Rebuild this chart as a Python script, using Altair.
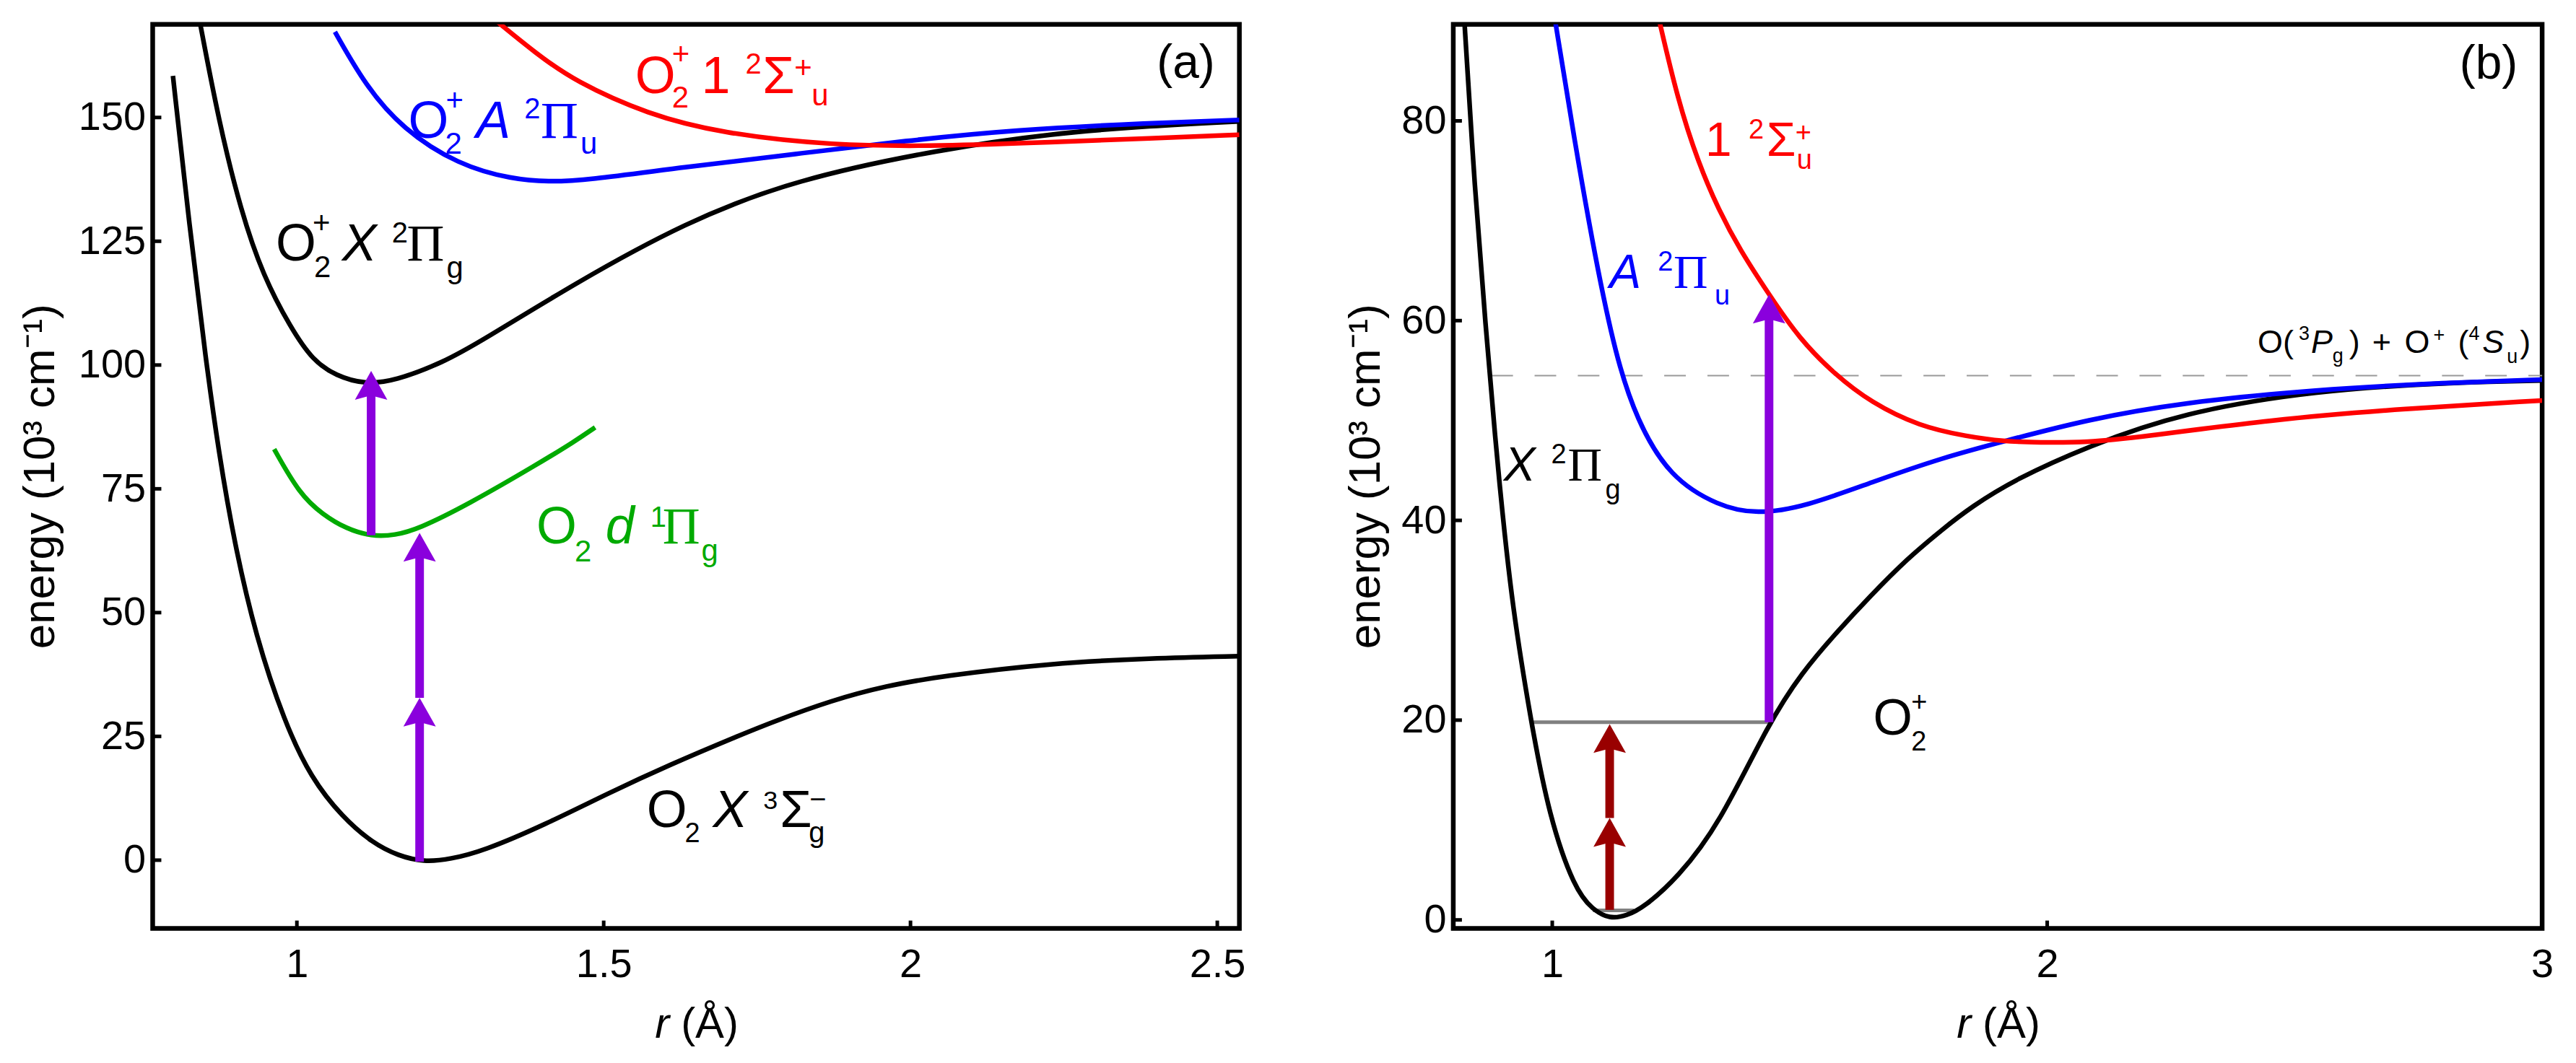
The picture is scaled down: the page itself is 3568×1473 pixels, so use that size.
import altair as alt
import pandas as pd

FONT = "Liberation Sans"
SERIF = "Liberation Serif"

# ---------------- panel (a): O2 / O2+ potential curves ----------------
a_O2X_r = [0.798, 0.825, 0.852, 0.873, 0.898, 0.933, 0.980, 1.023, 1.074, 1.124, 1.165, 1.207,
           1.250, 1.303, 1.405, 1.507, 1.608, 1.723, 1.775, 1.872, 1.960, 2.051, 2.231, 2.392, 2.536]
a_O2X_E = [158.4, 128.0, 100.6, 82.1, 64.1, 45.2, 27.8, 16.6, 8.7, 3.4, 0.9, -0.4,
           0.2, 1.8, 7.2, 13.5, 19.3, 25.3, 27.9, 32.3, 35.2, 37.2, 39.8, 40.8, 41.2]

a_O2d_r = [0.963, 1.004, 1.042, 1.081, 1.121, 1.160, 1.198, 1.277, 1.394, 1.453, 1.486]
a_O2d_E = [83.0, 74.0, 69.8, 66.9, 65.4, 65.6, 66.9, 71.7, 80.1, 84.6, 87.4]

a_O2pX_r = [0.840, 0.873, 0.909, 0.945, 0.990, 1.026, 1.064, 1.110, 1.160, 1.238, 1.300, 1.453,
            1.632, 1.812, 2.051, 2.231, 2.392, 2.536]
a_O2pX_E = [170.5, 149.0, 131.0, 118.0, 107.5, 100.9, 97.8, 96.1, 96.8, 100.5, 104.8, 116.5,
            128.8, 137.5, 143.6, 146.8, 148.3, 149.2]

a_O2pA_r = [1.062, 1.112, 1.172, 1.263, 1.352, 1.410, 1.470, 1.632, 1.812, 1.992, 2.171, 2.392, 2.536]
a_O2pA_E = [167.3, 156.4, 147.7, 140.4, 137.5, 137.0, 137.3, 140.0, 142.6, 145.3, 147.5, 148.9, 149.5]

a_O2pS_r = [1.325, 1.390, 1.453, 1.572, 1.692, 1.872, 2.051, 2.231, 2.392, 2.536]
a_O2pS_E = [169.5, 162.9, 157.3, 150.6, 146.8, 144.3, 144.2, 145.0, 145.8, 146.5]

a_xticks = [1, 1.5, 2, 2.5]
a_yticks = [0, 25, 50, 75, 100, 125, 150]

# arrows (r, from, to)
a_arrow_r = [1.121, 1.200, 1.200]
a_arrow_from = [65.6, -0.3, 32.8]
a_arrow_to = [98.8, 32.8, 66.1]

# ---------------- panel (b): O2+ curves ----------------
b_X_r = [0.820, 0.844, 0.865, 0.886, 0.898, 0.919, 0.957, 0.994, 1.045, 1.082, 1.116, 1.150, 1.186,
         1.253, 1.337, 1.438, 1.505, 1.571, 1.644, 1.716, 1.788, 1.848, 1.935, 2.081, 2.273, 2.542,
         2.812, 3.0]
b_X_E = [92.0, 72.6, 59.7, 47.5, 41.4, 31.5, 19.8, 10.3, 3.1, 1.0, 0.1, 0.4, 1.3,
         4.2, 9.5, 19.8, 24.8, 28.6, 32.5, 36.1, 39.1, 41.4, 44.1, 47.4, 50.8, 53.0,
         53.8, 54.0]

b_A_r = [1.005, 1.045, 1.087, 1.128, 1.170, 1.237, 1.337, 1.412, 1.513, 1.644, 1.790, 1.911,
         2.081, 2.273, 2.542, 2.812, 3.0]
b_A_E = [90.3, 78.0, 66.2, 56.5, 50.1, 44.3, 41.4, 40.6, 41.4, 43.8, 46.3, 47.9,
         50.1, 51.8, 53.1, 53.8, 54.1]

b_S_r = [1.214, 1.253, 1.295, 1.337, 1.379, 1.438, 1.499, 1.571, 1.644, 1.742, 1.838, 1.911,
         1.983, 2.081, 2.183, 2.453, 2.723, 3.0]
b_S_E = [90.5, 82.2, 75.8, 71.0, 67.1, 62.6, 58.2, 54.6, 51.8, 49.4, 48.4, 47.9,
         47.8, 47.8, 48.3, 50.1, 51.2, 52.0]

b_xticks = [1, 2, 3]
b_yticks = [0, 20, 40, 60, 80]

b_arrow_r = [1.438, 1.116, 1.116]
b_arrow_from = [19.8, 1.0, 10.2]
b_arrow_to = [62.6, 10.2, 19.6]
b_arrow_color = ["#8a00dd", "#990000", "#990000"]

b_level_E = [19.8, 0.95]
b_level_r1 = [0.957, 1.082]
b_level_r2 = [1.438, 1.165]

b_limit_E = 54.5
b_limit_r = [0.877, 3.0]

# ---------------- layout ----------------
WA, HA = 1509, 1256
WB, HB = 1512, 1256
XA, YA = [0.765, 2.536], [-13.8, 168.8]
XB, YB = [0.8, 3.0], [-0.86, 89.66]

PURPLE = "#8a00dd"
HEAD = "M0,0L0.5625,1L0,0.85L-0.5625,1Z"

# labels: anchor (r, E), colour, segments (text, dx px, dy px, size, kind)
a_labels = [
    (1.1816, 145.83, "#0000ff", [("O", 0, 0, 72, "s"), ("2", 51, 22, 42, "s"), ("+", 52, -38, 42, "s"),
                                  ("A", 94, 0, 72, "i"), ("2", 161, -27, 40, "s"), ("Π", 184, 0, 72, "r"),
                                  ("u", 239, 22, 42, "s")]),
    (1.5513, 154.99, "#ff0000", [("O", 0, 0, 72, "s"), ("2", 51, 21, 42, "s"), ("+", 51, -40, 42, "s"),
                                  ("1", 92, 0, 72, "s"), ("2", 153, -27, 40, "s"), ("Σ", 177, 0, 72, "s"),
                                  ("+", 221, -21, 42, "s"), ("u", 245, 18, 42, "s")]),
    (0.9657, 121.11, "#000000", [("O", 0, 0, 72, "s"), ("2", 53, 23, 42, "s"), ("+", 51, -38, 42, "s"),
                                  ("X", 92, 0, 72, "i"), ("2", 161, -25, 40, "s"), ("Π", 182, 0, 72, "r"),
                                  ("g", 237, 24, 42, "s")]),
    (1.3905, 63.97, "#00aa00", [("O", 0, 0, 72, "s"), ("2", 53, 25, 42, "s"), ("d", 96, 0, 72, "i"),
                                 ("1", 158, -23, 40, "s"), ("Π", 175, 0, 72, "r"), ("g", 229, 24, 42, "s")]),
    (1.5701, 6.69, "#000000", [("O", 0, 0, 72, "s"), ("2", 53, 21, 38, "s"), ("X", 92, 0, 72, "i"),
                                ("3", 162, -25, 36, "s"), ("Σ", 185, 0, 72, "s"), ("g", 225, 21, 40, "s"),
                                ("−", 226, -25, 40, "s")]),
]
b_labels = [
    (1.3093, 76.47, "#ff0000", [("1", 0, 0, 66, "s"), ("2", 60, -24, 38, "s"), ("Σ", 85, 0, 66, "s"),
                                 ("+", 125, -20, 38, "s"), ("u", 127, 18, 38, "s")]),
    (1.1157, 63.28, "#0000ff", [("A", 0, 0, 66, "i"), ("2", 67, -24, 38, "s"), ("Π", 89, 0, 66, "r"),
                                 ("u", 146, 23, 38, "s")]),
    (0.9019, 43.97, "#000000", [("X", 0, 0, 66, "i"), ("2", 66, -24, 38, "s"), ("Π", 89, 0, 66, "r"),
                                 ("g", 141, 25, 38, "s")]),
    (1.6483, 18.53, "#000000", [("O", 0, 0, 70, "s"), ("+", 53, -33, 38, "s"), ("2", 53, 22, 38, "s")]),
    (2.4253, 56.79, "#000000", [("O(", 0, 0, 45, "s"), ("3", 57, -18, 27, "s"), ("P", 74, 0, 45, "i"),
                                 ("g", 104, 13, 27, "s"), (")", 127, 0, 45, "s"), ("+", 159, 0, 45, "s"),
                                 ("O", 204, 0, 45, "s"), ("+", 244, -16, 27, "s"), ("(", 278, 0, 45, "s"),
                                 ("4", 293, -18, 27, "s"), ("S", 312, 0, 45, "i"), ("u", 346, 14, 27, "s"),
                                 (")", 364, 0, 45, "s")]),
]


def build_panel(W, H, xdom, ydom, xticks, yticks, curves, arrows, labels, tag, tag_pos, ytitle_x, extra=None):
    ppx = W / (xdom[1] - xdom[0])
    ppy = H / (ydom[1] - ydom[0])
    xs = alt.Scale(domain=xdom, nice=False, zero=False)
    ys = alt.Scale(domain=ydom, nice=False, zero=False)
    ax_x = alt.Axis(values=xticks, title=None, grid=False, domain=False, ticks=False, tickSize=0,
                    labelFontSize=56, labelFont=FONT, labelColor="black", labelPadding=23,
                    labelFlush=False, labelOverlap=False, format="~g")
    ax_y = alt.Axis(values=yticks, title=None, grid=False, domain=False, ticks=False, tickSize=0,
                    labelFontSize=56, labelFont=FONT, labelColor="black", labelPadding=10,
                    labelFlush=False, labelOverlap=False, format="d")

    def X(f):
        return alt.X(f, scale=xs, axis=ax_x)

    def Y(f):
        return alt.Y(f, scale=ys, axis=ax_y)

    rows = []
    for name, rr, ee, col in curves:
        for r, e in zip(rr, ee):
            rows.append({"r": r, "E": e, "curve": name, "color": col})
    cdf = pd.DataFrame(rows)

    layers = []
    if extra is not None:
        layers += extra(X, Y)

    layers.append(alt.Chart(cdf).mark_line(strokeWidth=6.5, interpolate="basis", clip=True).encode(
        x=X("r:Q"), y=Y("E:Q"), color=alt.Color("color:N", scale=None), detail="curve:N"))

    # arrows
    ar, af, at, ac = arrows
    adf = pd.DataFrame({"r": ar, "E0": af, "E1": at, "color": ac})
    adf["Es"] = adf["E1"] - 30.0 / ppy
    layers.append(alt.Chart(adf).mark_rule(strokeWidth=12, strokeCap="butt").encode(
        x=X("r:Q"), y=Y("E0:Q"), y2="Es:Q", color=alt.Color("color:N", scale=None)))
    layers.append(alt.Chart(adf).mark_point(shape=HEAD, filled=True, size=6400, opacity=1, strokeWidth=0).encode(
        x=X("r:Q"), y=Y("E1:Q"), color=alt.Color("color:N", scale=None)))

    # inward ticks
    layers.append(alt.Chart(pd.DataFrame({"v": yticks})).mark_rule(strokeWidth=5, color="black").encode(
        y=Y("v:Q"), x=alt.value(0), x2=alt.value(12)))
    layers.append(alt.Chart(pd.DataFrame({"v": xticks})).mark_rule(strokeWidth=5, color="black").encode(
        x=X("v:Q"), y=alt.value(H), y2=alt.value(H - 11)))

    # curve labels built from segments
    srows = []
    for r0, e0, col, segs in labels:
        for txt, dx, dy, sz, kind in segs:
            srows.append({"r": r0 + dx / ppx, "E": e0 - dy / ppy, "text": txt, "size": sz,
                          "color": col, "kind": kind})
    sdf = pd.DataFrame(srows)
    for kind, font, style in [("s", FONT, "normal"), ("i", FONT, "italic"), ("r", SERIF, "normal")]:
        sub = sdf[sdf["kind"] == kind]
        if len(sub) == 0:
            continue
        layers.append(alt.Chart(sub).mark_text(align="left", baseline="alphabetic", font=font,
                                               fontStyle=style).encode(
            x=X("r:Q"), y=Y("E:Q"), text="text:N", size=alt.Size("size:Q", scale=None),
            color=alt.Color("color:N", scale=None)))

    # panel tag
    layers.append(alt.Chart(pd.DataFrame({"r": [tag_pos[0]], "E": [tag_pos[1]], "t": [tag]})).mark_text(
        align="right", baseline="alphabetic", font=FONT, fontSize=66, color="black").encode(
        x=X("r:Q"), y=Y("E:Q"), text="t:N"))

    # axis titles
    layers.append(alt.Chart(pd.DataFrame({"t": ["r"]})).mark_text(
        align="left", baseline="alphabetic", font=FONT, fontStyle="italic", fontSize=60, color="black").encode(
        text="t:N", x=alt.value(W / 2 - 57), y=alt.value(H + 152)))
    layers.append(alt.Chart(pd.DataFrame({"t": ["(Å)"]})).mark_text(
        align="left", baseline="alphabetic", font=FONT, fontSize=60, color="black").encode(
        text="t:N", x=alt.value(W / 2 - 21), y=alt.value(H + 152)))
    layers.append(alt.Chart(pd.DataFrame({"t": ["energy (10³ cm⁻¹)"]})).mark_text(
        align="center", baseline="alphabetic", font=FONT, fontSize=62, angle=270, color="black").encode(
        text="t:N", x=alt.value(ytitle_x), y=alt.value(H / 2)))

    return alt.layer(*layers).properties(width=W, height=H)


def b_extra(X, Y):
    ldf = pd.DataFrame({"E": b_level_E, "r1": b_level_r1, "r2": b_level_r2})
    dl = pd.DataFrame({"E": [b_limit_E], "r1": [b_limit_r[0]], "r2": [b_limit_r[1]]})
    return [
        alt.Chart(dl).mark_rule(strokeWidth=2, color="#999999", strokeDash=[30, 30]).encode(
            x=X("r1:Q"), x2="r2:Q", y=Y("E:Q")),
        alt.Chart(ldf).mark_rule(strokeWidth=5, color="#808080").encode(
            x=X("r1:Q"), x2="r2:Q", y=Y("E:Q")),
    ]


panel_a = build_panel(
    WA, HA, XA, YA, a_xticks, a_yticks,
    [("O2 X", a_O2X_r, a_O2X_E, "#000000"),
     ("O2 d", a_O2d_r, a_O2d_E, "#00aa00"),
     ("O2+ X", a_O2pX_r, a_O2pX_E, "#000000"),
     ("O2+ A", a_O2pA_r, a_O2pA_E, "#0000ff"),
     ("O2+ 1S", a_O2pS_r, a_O2pS_E, "#ff0000")],
    (a_arrow_r, a_arrow_from, a_arrow_to, [PURPLE] * 3),
    a_labels, "(a)", (2.4961, 158.04), -137)

panel_b = build_panel(
    WB, HB, XB, YB, b_xticks, b_yticks,
    [("X", b_X_r, b_X_E, "#000000"),
     ("A", b_A_r, b_A_E, "#0000ff"),
     ("1S", b_S_r, b_S_E, "#ff0000")],
    (b_arrow_r, b_arrow_from, b_arrow_to, b_arrow_color),
    b_labels, "(b)", (2.9505, 84.25), -102, extra=b_extra)

chart = alt.hconcat(panel_a, panel_b, spacing=297, bounds="flush").properties(
    padding={"left": 13, "top": 20, "right": 20, "bottom": 10}
).configure(font=FONT).configure_view(stroke="black", strokeWidth=6.5)

chart.save("out.html", embed_options={"renderer": "svg", "actions": False})
